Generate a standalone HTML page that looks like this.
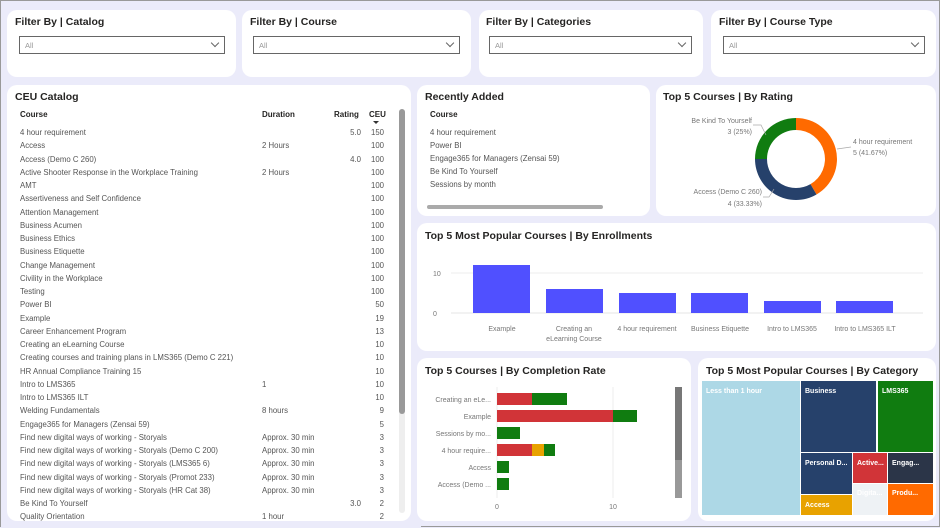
<!DOCTYPE html>
<html><head><meta charset="utf-8"><style>
*{margin:0;padding:0;box-sizing:border-box}
body{width:940px;height:527px;background:#ebebfa;font-family:"Liberation Sans",sans-serif;position:relative;overflow:hidden;border:1px solid #999}
.p{position:absolute;background:#fff;border-radius:10px}
.t{position:absolute;font-size:10.5px;font-weight:bold;color:#252423}
.dd{position:absolute;height:18px;border:1px solid #666;font-size:7.5px;color:#999;padding:4px 5px}
.dd:after{content:"";position:absolute;right:6px;top:3px;width:5px;height:5px;border-right:1px solid #666;border-bottom:1px solid #666;transform:rotate(45deg)}
.a{position:absolute;font-size:7.8px;color:#555;white-space:nowrap;line-height:10px}
.h{position:absolute;font-size:8px;font-weight:bold;color:#252423;white-space:nowrap}
.r{text-align:right}
</style></head><body>
<div class="p" style="left:6px;top:9px;width:229px;height:67px"></div>
<div class="p" style="left:241px;top:9px;width:229px;height:67px"></div>
<div class="p" style="left:478px;top:9px;width:224px;height:67px"></div>
<div class="p" style="left:710px;top:9px;width:225px;height:67px"></div>
<div class="t" style="left:14px;top:15px">Filter By | Catalog</div>
<div class="t" style="left:249px;top:15px">Filter By | Course</div>
<div class="t" style="left:485px;top:15px">Filter By | Categories</div>
<div class="t" style="left:718px;top:15px">Filter By | Course Type</div>
<div class="dd" style="left:18px;top:35px;width:206px">All</div>
<div class="dd" style="left:252px;top:35px;width:207px">All</div>
<div class="dd" style="left:488px;top:35px;width:203px">All</div>
<div class="dd" style="left:722px;top:35px;width:202px">All</div>

<div class="p" style="left:6px;top:84px;width:404px;height:436px;overflow:hidden" id="cat"></div>
<div class="t" style="left:14px;top:90px">CEU Catalog</div>
<div class="h" style="left:19px;top:109px">Course</div>
<div class="h" style="left:261px;top:109px">Duration</div>
<div class="h" style="left:333px;top:109px">Rating</div>
<div class="h" style="left:368px;top:109px">CEU</div>
<div style="position:absolute;left:372px;top:120px;border:3px solid transparent;border-top:3px solid #333"></div>
<div id="rows"></div>
<div style="position:absolute;left:0;top:520px;width:420px;height:7px;background:#ebebfa"></div>
<div style="position:absolute;left:398px;top:108px;width:6px;height:404px;background:#eee;border-radius:3px"></div>
<div style="position:absolute;left:398px;top:108px;width:6px;height:305px;background:#999;border-radius:3px"></div>

<div class="p" style="left:416px;top:84px;width:233px;height:131px"></div>
<div class="t" style="left:424px;top:90px">Recently Added</div>
<div class="h" style="left:429px;top:109px">Course</div>
<div class="a" style="left:429px;top:127px">4 hour requirement</div>
<div class="a" style="left:429px;top:140px">Power BI</div>
<div class="a" style="left:429px;top:153px">Engage365 for Managers (Zensai 59)</div>
<div class="a" style="left:429px;top:166px">Be Kind To Yourself</div>
<div class="a" style="left:429px;top:179px">Sessions by month</div>
<div style="position:absolute;left:426px;top:204px;width:176px;height:4px;background:#aaa;border-radius:2px"></div>

<div class="p" style="left:655px;top:84px;width:280px;height:131px"></div>
<div class="t" style="left:662px;top:90px">Top 5 Courses | By Rating</div>
<svg style="position:absolute;left:0;top:0" width="940" height="527">
<path d="M795,117 A41,41 0 0 1 815.5,193.5 L809.5,183.1 A29,29 0 0 0 795,129 Z" fill="#ff6a00"/>
<path d="M815.5,193.5 A41,41 0 0 1 754,158 L766,158 A29,29 0 0 0 809.5,183.1 Z" fill="#26416b"/>
<path d="M754,158 A41,41 0 0 1 795,117 L795,129 A29,29 0 0 0 766,158 Z" fill="#107c10"/>
<polyline points="752,124 760,124 765,134" fill="none" stroke="#aaa" stroke-width=".7"/>
<polyline points="836,148 850,146" fill="none" stroke="#aaa" stroke-width=".7"/>
<polyline points="762,196 768,196 773,188" fill="none" stroke="#aaa" stroke-width=".7"/>
</svg>
<div class="a r" style="left:640px;width:111px;top:116px;font-size:7px;color:#777">Be Kind To Yourself</div>
<div class="a r" style="left:640px;width:111px;top:127px;font-size:7px;color:#777">3 (25%)</div>
<div class="a" style="left:852px;top:137px;font-size:7px;color:#777">4 hour requirement</div>
<div class="a" style="left:852px;top:148px;font-size:7px;color:#777">5 (41.67%)</div>
<div class="a r" style="left:650px;width:111px;top:187px;font-size:7px;color:#777">Access (Demo C 260)</div>
<div class="a r" style="left:650px;width:111px;top:199px;font-size:7px;color:#777">4 (33.33%)</div>

<div class="p" style="left:416px;top:222px;width:519px;height:128px"></div>
<div class="t" style="left:424px;top:229px">Top 5 Most Popular Courses | By Enrollments</div>
<svg style="position:absolute;left:0;top:0" width="940" height="527">
<line x1="450" y1="272" x2="922" y2="272" stroke="#eee"/>
<line x1="450" y1="312" x2="922" y2="312" stroke="#e4e4e4"/>
<g fill="#5050ff">
<rect x="472" y="264" width="57" height="48"/>
<rect x="545" y="288" width="57" height="24"/>
<rect x="618" y="292" width="57" height="20"/>
<rect x="690" y="292" width="57" height="20"/>
<rect x="763" y="300" width="57" height="12"/>
<rect x="835" y="300" width="57" height="12"/>
</g>
<g font-family="Liberation Sans" font-size="7" fill="#777" text-anchor="middle">
<text x="432" y="275" text-anchor="start">10</text><text x="432" y="315" text-anchor="start">0</text>
<text x="501" y="330">Example</text>
<text x="573" y="330">Creating an</text><text x="573" y="340">eLearning Course</text>
<text x="646" y="330">4 hour requirement</text>
<text x="719" y="330">Business Etiquette</text>
<text x="791" y="330">Intro to LMS365</text>
<text x="864" y="330">Intro to LMS365 ILT</text>
</g>
</svg>

<div class="p" style="left:416px;top:357px;width:274px;height:163px"></div>
<div class="t" style="left:424px;top:364px">Top 5 Courses | By Completion Rate</div>
<svg style="position:absolute;left:0;top:0" width="940" height="527">
<line x1="496" y1="386" x2="496" y2="497" stroke="#eee"/>
<line x1="612" y1="386" x2="612" y2="497" stroke="#eee"/>
<rect x="496" y="392" width="35" height="12" fill="#d13438"/><rect x="531" y="392" width="35" height="12" fill="#107c10"/>
<rect x="496" y="409" width="116" height="12" fill="#d13438"/><rect x="612" y="409" width="24" height="12" fill="#107c10"/>
<rect x="496" y="426" width="23" height="12" fill="#107c10"/>
<rect x="496" y="443" width="35" height="12" fill="#d13438"/><rect x="531" y="443" width="12" height="12" fill="#e8a200"/><rect x="543" y="443" width="11" height="12" fill="#107c10"/>
<rect x="496" y="460" width="12" height="12" fill="#107c10"/>
<rect x="496" y="477" width="12" height="12" fill="#107c10"/>
<g font-family="Liberation Sans" font-size="7" fill="#777" text-anchor="end">
<text x="490" y="401">Creating an eLe...</text>
<text x="490" y="418">Example</text>
<text x="490" y="435">Sessions by mo...</text>
<text x="490" y="452">4 hour require...</text>
<text x="490" y="469">Access</text>
<text x="490" y="486">Access (Demo ...</text>
<text x="496" y="508" text-anchor="middle">0</text>
<text x="612" y="508" text-anchor="middle">10</text>
</g>
<rect x="674" y="386" width="7" height="111" fill="#999"/>
<rect x="674" y="386" width="7" height="73" fill="#777"/>
</svg>

<div class="p" style="left:697px;top:357px;width:238px;height:163px"></div>
<div class="t" style="left:705px;top:364px">Top 5 Most Popular Courses | By Category</div>
<svg style="position:absolute;left:0;top:0" width="940" height="527">
<rect x="701" y="380" width="98" height="134" fill="#add8e6"/>
<rect x="800" y="380" width="75" height="71" fill="#26416b"/>
<rect x="877" y="380" width="55" height="71" fill="#107c10"/>
<rect x="800" y="452" width="51" height="41" fill="#26416b"/>
<rect x="800" y="494" width="51" height="20" fill="#e8a200"/>
<rect x="852" y="452" width="34" height="30" fill="#d13438"/>
<rect x="852" y="483" width="34" height="31" fill="#eef2f5"/>
<rect x="887" y="452" width="45" height="30" fill="#2b3548"/>
<rect x="887" y="483" width="45" height="31" fill="#ff6a00"/>
<g font-family="Liberation Sans" font-size="7" font-weight="bold" fill="#fff">
<text x="705" y="392">Less than 1 hour</text>
<text x="804" y="392">Business</text>
<text x="881" y="392">LMS365</text>
<text x="804" y="464">Personal D...</text>
<text x="804" y="506">Access</text>
<text x="856" y="464">Active...</text>
<text x="856" y="494">Digita...</text>
<text x="891" y="464">Engag...</text>
<text x="891" y="494">Produ...</text>
</g>
</svg>

<script>
var d=[["4 hour requirement","","5.0","150"],["Access","2 Hours","","100"],["Access (Demo C 260)","","4.0","100"],["Active Shooter Response in the Workplace Training","2 Hours","","100"],["AMT","","","100"],["Assertiveness and Self Confidence","","","100"],["Attention Management","","","100"],["Business Acumen","","","100"],["Business Ethics","","","100"],["Business Etiquette","","","100"],["Change Management","","","100"],["Civility in the Workplace","","","100"],["Testing","","","100"],["Power BI","","","50"],["Example","","","19"],["Career Enhancement Program","","","13"],["Creating an eLearning Course","","","10"],["Creating courses and training plans in LMS365 (Demo C 221)","","","10"],["HR Annual Compliance Training 15","","","10"],["Intro to LMS365","1","","10"],["Intro to LMS365 ILT","","","10"],["Welding Fundamentals","8 hours","","9"],["Engage365 for Managers (Zensai 59)","","","5"],["Find new digital ways of working - Storyals","Approx. 30 min","","3"],["Find new digital ways of working - Storyals  (Demo C 200)","Approx. 30 min","","3"],["Find new digital ways of working - Storyals  (LMS365 6)","Approx. 30 min","","3"],["Find new digital ways of working - Storyals  (Promot 233)","Approx. 30 min","","3"],["Find new digital ways of working - Storyals (HR Cat 38)","Approx. 30 min","","3"],["Be Kind To Yourself","","3.0","2"],["Quality Orientation","1 hour","","2"]];
var h="";d.forEach(function(r,i){var y=127+i*13.25;
h+='<div class="a" style="left:19px;top:'+y+'px">'+r[0]+'</div><div class="a" style="left:261px;top:'+y+'px">'+r[1]+'</div><div class="a r" style="left:330px;width:30px;top:'+y+'px">'+r[2]+'</div><div class="a r" style="left:360px;width:23px;top:'+y+'px">'+r[3]+'</div>';});
document.getElementById("rows").innerHTML=h;
</script>
</body></html>
